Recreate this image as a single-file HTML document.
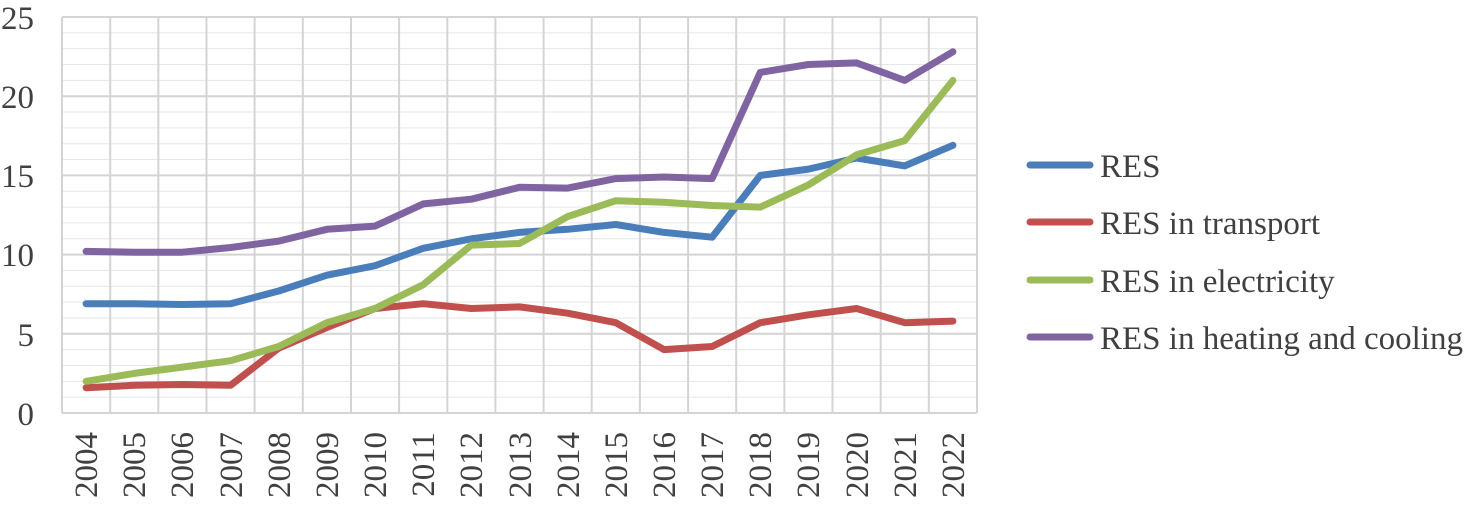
<!DOCTYPE html><html><head><style>body{margin:0;background:#fff}svg text{font-family:"Liberation Serif",serif;fill:#404040;font-size:33px}</style></head><body>
<svg width="1472" height="500" xmlns="http://www.w3.org/2000/svg">
<path fill="none" stroke="#e6e6e6" stroke-width="1" d="M62 397.16H977M62 381.32H977M62 365.48H977M62 349.64H977M62 317.96H977M62 302.12H977M62 286.28H977M62 270.44H977M62 238.76H977M62 222.92H977M62 207.08H977M62 191.24H977M62 159.56H977M62 143.72H977M62 127.88H977M62 112.04H977M62 80.36H977M62 64.52H977M62 48.68H977M62 32.84H977"/>
<path fill="none" stroke="#d4d4d4" stroke-width="2" d="M62 413H977M62 333.8H977M62 254.6H977M62 175.4H977M62 96.2H977M62 17H977M62 17V413M110.2 17V413M158.3 17V413M206.5 17V413M254.6 17V413M302.8 17V413M351 17V413M399.1 17V413M447.3 17V413M495.4 17V413M543.6 17V413M591.7 17V413M639.9 17V413M688.1 17V413M736.2 17V413M784.4 17V413M832.5 17V413M880.7 17V413M928.8 17V413M977 17V413"/>
<g text-anchor="end">
<text x="34" y="425">0</text><text x="34" y="346">5</text><text x="34" y="266">10</text><text x="34" y="187">15</text><text x="34" y="108">20</text><text x="34" y="29">25</text>
<text transform="translate(97,432) rotate(-90)">2004</text>
<text transform="translate(145,432) rotate(-90)">2005</text>
<text transform="translate(193,432) rotate(-90)">2006</text>
<text transform="translate(242,432) rotate(-90)">2007</text>
<text transform="translate(290,432) rotate(-90)">2008</text>
<text transform="translate(338,432) rotate(-90)">2009</text>
<text transform="translate(386,432) rotate(-90)">2010</text>
<text transform="translate(434,432) rotate(-90)">2011</text>
<text transform="translate(482,432) rotate(-90)">2012</text>
<text transform="translate(531,432) rotate(-90)">2013</text>
<text transform="translate(579,432) rotate(-90)">2014</text>
<text transform="translate(627,432) rotate(-90)">2015</text>
<text transform="translate(675,432) rotate(-90)">2016</text>
<text transform="translate(723,432) rotate(-90)">2017</text>
<text transform="translate(771,432) rotate(-90)">2018</text>
<text transform="translate(819,432) rotate(-90)">2019</text>
<text transform="translate(868,432) rotate(-90)">2020</text>
<text transform="translate(916,432) rotate(-90)">2021</text>
<text transform="translate(964,432) rotate(-90)">2022</text>
</g>
<g fill="none" stroke-width="7" stroke-linejoin="round" stroke-linecap="round">
<polyline stroke="#4a7ebb" points="86.08,303.7 134.24,303.7 182.39,304.5 230.55,303.7 278.71,291 326.87,275.2 375.03,265.7 423.18,248.3 471.34,238.8 519.5,232.4 567.66,229.3 615.82,224.5 663.97,232.4 712.13,237.2 760.29,175.4 808.45,169.1 856.61,158 904.76,165.9 952.92,145.3"/>
<polyline stroke="#c0504d" points="86.08,387.7 134.24,385.3 182.39,384.5 230.55,385.3 278.71,348.1 326.87,327.5 375.03,308.5 423.18,303.7 471.34,308.5 519.5,306.9 567.66,313.2 615.82,322.7 663.97,349.6 712.13,346.5 760.29,322.7 808.45,314.8 856.61,308.5 904.76,322.7 952.92,321.1"/>
<polyline stroke="#9bbb59" points="86.08,381.3 134.24,373.4 182.39,367.1 230.55,360.7 278.71,346.5 326.87,322.7 375.03,308.5 423.18,284.7 471.34,245.1 519.5,243.5 567.66,216.6 615.82,200.7 663.97,202.3 712.13,205.5 760.29,207.1 808.45,184.9 856.61,154.8 904.76,140.6 952.92,80.4"/>
<polyline stroke="#8064a2" points="86.08,251.4 134.24,252.2 182.39,252.2 230.55,247.5 278.71,241.1 326.87,229.3 375.03,226.1 423.18,203.9 471.34,199.2 519.5,187.3 567.66,188.1 615.82,178.6 663.97,177 712.13,178.6 760.29,72.4 808.45,64.5 856.61,62.9 904.76,80.4 952.92,51.8"/>
<line x1="1030" x2="1090" y1="165" y2="165" stroke="#4a7ebb"/>
<line x1="1030" x2="1090" y1="222" y2="222" stroke="#c0504d"/>
<line x1="1030" x2="1090" y1="280" y2="280" stroke="#9bbb59"/>
<line x1="1030" x2="1090" y1="337" y2="337" stroke="#8064a2"/>
</g>
<g style="font-size:33.8px">
<text x="1100" y="177">RES</text>
<text x="1100" y="234">RES in transport</text>
<text x="1100" y="292">RES in electricity</text>
<text x="1100" y="349">RES in heating and cooling</text>
</g>
</svg></body></html>
